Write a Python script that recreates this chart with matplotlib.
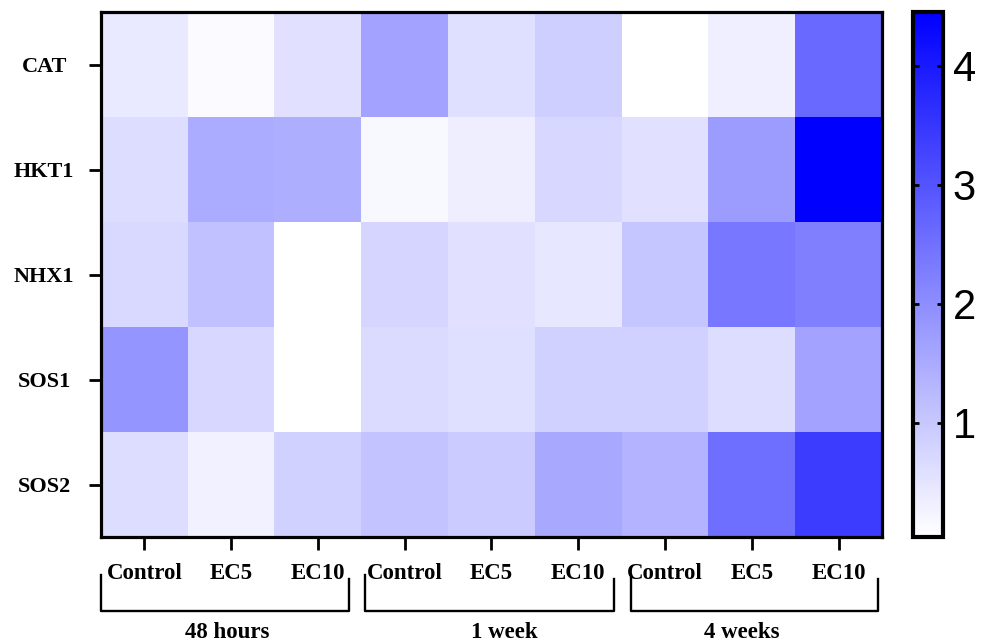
import numpy as np
import matplotlib
matplotlib.use('Agg')
from matplotlib import pyplot as plt
from matplotlib.colors import LinearSegmentedColormap
import matplotlib.transforms as mtransforms

genes = ['CAT', 'HKT1', 'NHX1', 'SOS1', 'SOS2']
treatments = ['Control', 'EC5', 'EC10'] * 3
groups = ['48 hours', '1 week', '4 weeks']

# relative expression, columns: 48 h (Control, EC5, EC10), 1 week (...), 4 weeks (...)
cat = [0.43, 0.12, 0.57, 1.61, 0.60, 0.88, 0.04, 0.32, 2.61]
hkt1 = [0.64, 1.50, 1.45, 0.17, 0.34, 0.74, 0.57, 1.75, 4.45]
nhx1 = [0.71, 1.12, 0.04, 0.78, 0.57, 0.46, 1.05, 2.40, 2.23]
sos1 = [1.88, 0.74, 0.04, 0.67, 0.60, 0.84, 0.84, 0.64, 1.64]
sos2 = [0.64, 0.29, 0.84, 1.09, 0.95, 1.54, 1.36, 2.54, 3.41]

cbar_ticks = [1, 2, 3, 4]

data = np.array([cat, hkt1, nhx1, sos1, sos2])
cmap = LinearSegmentedColormap.from_list('white_blue', ['#ffffff', '#0000ff'])

serif = ['Liberation Serif', 'DejaVu Serif']
fig = plt.figure(figsize=(9.81, 6.44), dpi=100)
ax = fig.add_axes([0.103, 0.166, 0.796, 0.815])
cax = fig.add_axes([0.9307, 0.166, 0.0306, 0.815])

im = ax.imshow(data, cmap=cmap, vmin=0.04, vmax=4.45, aspect='auto',
               interpolation='nearest')

for s in ax.spines.values():
    s.set_linewidth(2.3)

ax.set_yticks(range(len(genes)))
ax.set_yticklabels(genes, family=serif, fontweight='bold', fontsize=16, ha='center')
ax.tick_params(axis='y', length=9, width=2, pad=32)

ax.set_xticks(range(len(treatments)))
ax.set_xticklabels(treatments, family=serif, fontweight='bold', fontsize=16.5)
ax.tick_params(axis='x', length=9, width=2, pad=10)

# brackets under each time point
trans = mtransforms.blended_transform_factory(ax.transData, ax.transAxes)
bracket_x = [(-0.5, 2.36), (2.54, 5.41), (5.61, 8.46)]
label_x = [0.95, 4.15, 6.88]
for (x0, x1), lx, g in zip(bracket_x, label_x, groups):
    ax.plot([x0, x0, x1, x1], [-0.073, -0.141, -0.141, -0.08], color='black',
            lw=1.7, transform=trans, clip_on=False)
    ax.text(lx, -0.182, g, transform=trans, ha='center', va='center',
            family=serif, fontweight='bold', fontsize=16.5)

cb = fig.colorbar(im, cax=cax, ticks=cbar_ticks)
cb.outline.set_linewidth(3)
cax.tick_params(direction='in', length=4, width=2, left=True, right=True,
                labelsize=30, pad=7)
for t in cax.get_yticklabels():
    t.set_family(['Liberation Sans', 'DejaVu Sans'])

fig.savefig('out.png', dpi=100)
